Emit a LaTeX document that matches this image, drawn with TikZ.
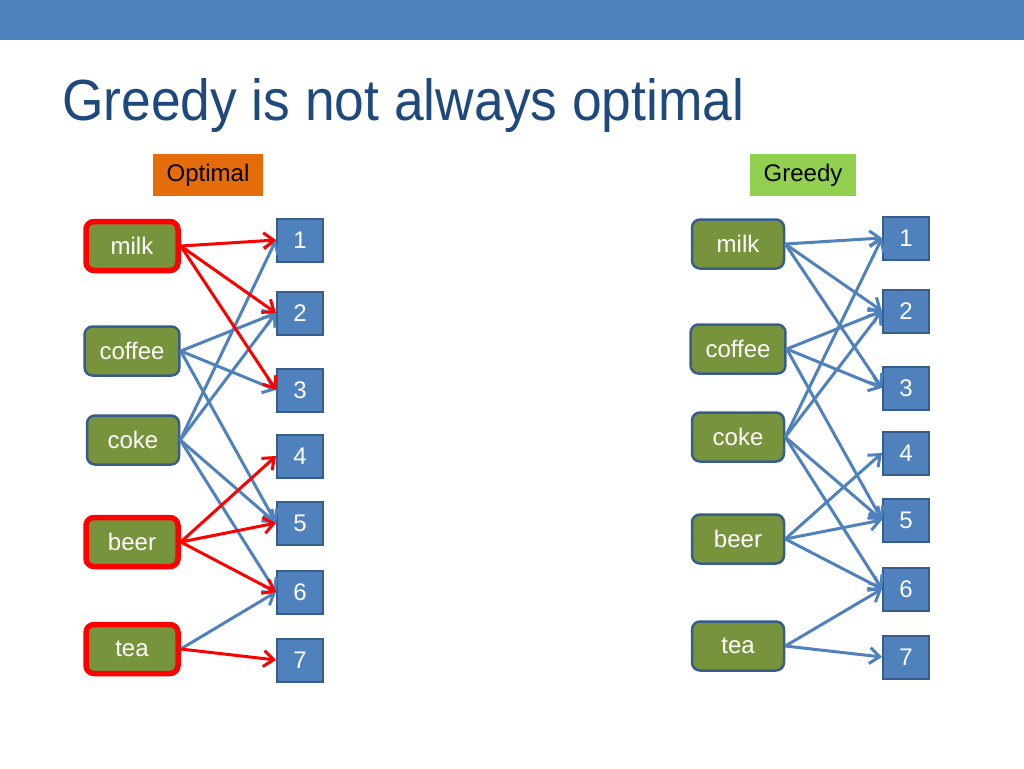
\documentclass[tikz,border=0pt]{standalone}
\usepackage{fontspec}
\setmainfont{Liberation Sans}
\newfontfamily\titlefont[FakeStretch=0.92]{Liberation Sans}
\usetikzlibrary{arrows.meta, positioning}
\definecolor{barblue}{HTML}{4F81BD}
\definecolor{titleblue}{HTML}{1F497D}
\definecolor{olive}{HTML}{77933C}
\definecolor{boxline}{HTML}{385D8A}
\definecolor{optorange}{HTML}{E46C0A}
\definecolor{greedygreen}{HTML}{92D050}
\tikzset{
		food state/.style={draw=boxline, line width=2.5pt, fill=olive, rounded corners=8pt,
			text=white, font=\fontsize{24}{28}\selectfont, inner xsep=15pt,
			minimum width=92pt, minimum height=49pt},
		chosen/.style={draw=red, line width=5.5pt},
		slot state/.style={draw=boxline, line width=2pt, fill=barblue, text=white,
			font=\fontsize{24}{28}\selectfont, minimum width=46pt, minimum height=43pt, inner sep=0pt},
		tag state/.style={text=black, font=\fontsize{24}{28}\selectfont, minimum height=42pt},
		blue edge/.style={barblue, line width=3pt},
		red edge/.style={red, line width=3pt}
	}
\begin{document}
\begin{tikzpicture}[x=1pt, y=-1pt, >={Straight Barb[length=10pt,width=16pt]}]
				\useasboundingbox (0,0) rectangle (1024,768);
				\fill[barblue] (0,0) rectangle (1024,40);
				\node[anchor=base west, inner sep=0pt, text=titleblue,
					font=\titlefont\fontsize{58}{64}\selectfont] (title) at (62,120) {Greedy is not always optimal};

				% optimal matching
				\node[tag state, fill=optorange, minimum width=110pt] (opt) at (208,175) {Optimal};
				\node[food state, chosen] (milk)   at (132,246) {milk};
				\node[food state]         (coffee) at (132,351) {coffee};
				\node[food state]         (coke)   at (133,440) {coke};
				\node[food state, chosen] (beer)   at (132,542) {beer};
				\node[food state, chosen] (tea)    at (132,649) {tea};

				\node[slot state] (l1) at (300,240) {1};
				\node[slot state] (l2) at (300,313) {2};
				\node[slot state] (l3) at (300,390) {3};
				\node[slot state] (l4) at (300,456) {4};
				\node[slot state] (l5) at (300,523) {5};
				\node[slot state] (l6) at (300,592) {6};
				\node[slot state] (l7) at (300,660) {7};

				\path[->, blue edge] (coffee.east) edge (l2.west) edge (l3.west) edge (l5.west);
				\path[->, blue edge] (coke.east) edge (l1.west) edge (l2.west) edge (l5.west) edge (l6.west);
				\path[->, blue edge] (tea.east) edge (l6.west);
				\path[->, red edge]  (milk.east) edge (l1.west) edge (l2.west) edge (l3.west);
				\path[->, red edge]  (beer.east) edge (l4.west) edge (l5.west) edge (l6.west);
				\path[->, red edge]  (tea.east) edge (l7.west);

				% greedy matching
				\node[tag state, fill=greedygreen, minimum width=106pt] (greedy) at (803,175) {Greedy};
				\node[food state] (gmilk)   at (738,244) {milk};
				\node[food state] (gcoffee) at (738,349) {coffee};
				\node[food state] (gcoke)   at (738,437) {coke};
				\node[food state] (gbeer)   at (738,539) {beer};
				\node[food state] (gtea)    at (738,646) {tea};

				\node[slot state] (r1) at (906,238) {1};
				\node[slot state] (r2) at (906,311) {2};
				\node[slot state] (r3) at (906,388) {3};
				\node[slot state] (r4) at (906,453) {4};
				\node[slot state] (r5) at (906,520) {5};
				\node[slot state] (r6) at (906,589) {6};
				\node[slot state] (r7) at (906,657) {7};

				\path[->, blue edge] (gmilk.east) edge (r1.west) edge (r2.west) edge (r3.west);
				\path[->, blue edge] (gcoffee.east) edge (r2.west) edge (r3.west) edge (r5.west);
				\path[->, blue edge] (gcoke.east) edge (r1.west) edge (r2.west) edge (r5.west) edge (r6.west);
				\path[->, blue edge] (gbeer.east) edge (r4.west) edge (r5.west) edge (r6.west);
				\path[->, blue edge] (gtea.east) edge (r6.west) edge (r7.west);
			\end{tikzpicture}
\end{document}
